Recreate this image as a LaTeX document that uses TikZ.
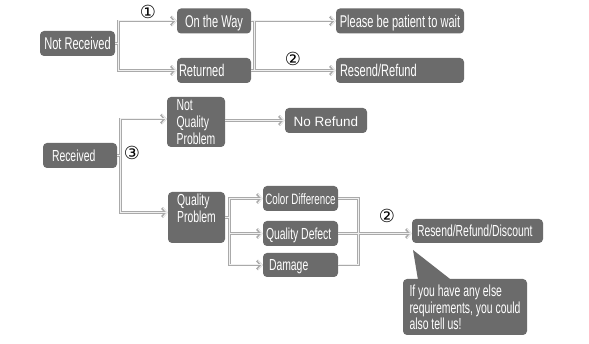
\documentclass[tikz,border=0pt]{standalone}
\usepackage{fontspec}
\setmainfont{Liberation Sans}
\newfontfamily\narrowfont[FakeStretch=0.65]{Liberation Sans}
\newfontfamily\circfont{DejaVu Sans}
\usetikzlibrary{arrows.meta}
\definecolor{boxgray}{HTML}{6B6B6B}
\definecolor{linkedge}{HTML}{AAAAAA}
\definecolor{linkfill}{HTML}{F0F0F0}

\begin{document}
\begin{tikzpicture}[x=1pt,y=-1pt,
  box/.style={fill=boxgray,rounded corners=4pt,text=white,inner sep=0pt,minimum height=25pt,align=left,
    font=\narrowfont\fontsize{16}{17}\selectfont},
  single/.style={text height=11.5pt,text depth=0pt},
  bigtext/.style={font=\narrowfont\fontsize{17}{18}\selectfont,text height=12.5pt,text depth=0pt},
  linkout/.style={draw=linkedge,line width=2.6pt},
  linkin/.style={draw=linkfill,line width=1pt},
  num/.style={font=\circfont\fontsize{18}{18}\selectfont,inner sep=0pt},
  >={Straight Barb[length=4pt,width=9pt]}]
\useasboundingbox[fill=white] (0,0) rectangle (589,344);

% not received
\node[box,bigtext,minimum width=75pt] (notrec) at (77.5,43.5) {Not Received};
\node[box,bigtext,minimum width=74pt] (ontheway) at (214,21) {On the Way};
\node[box,bigtext,inner xsep=2pt] (returned) at (214,70.5) {\makebox[70pt][l]{Returned}};
\node[box,bigtext,minimum width=128pt] (please) at (400,21) {Please be patient to wait};
\node[box,bigtext,inner xsep=4pt] (resend) at (400,70.5) {\makebox[120pt][l]{Resend/Refund}};

% received
\node[box,single,inner xsep=9pt] (received) at (80,155.5) {\makebox[56pt][l]{Received}};
\node[box,minimum width=58pt,minimum height=50pt,text height=48pt,text depth=2pt] (nqp) at (196,122) {Not\\Quality\\Problem};
\node[box,single,minimum width=82pt,font=\fontsize{13.5}{15}\selectfont] (noref) at (326,120.5) {No Refund};
\node[box,minimum width=57pt,minimum height=51pt,text height=30pt,text depth=19pt] (qp) at (196.5,217.5) {Quality\\Problem};
\node[box,single,minimum width=75pt,font=\narrowfont\fontsize{15}{16}\selectfont] (colordiff) at (300.5,198.5) {Color Difference};
\node[box,single,inner xsep=3pt] (qdefect) at (300.5,233.5) {\makebox[69pt][l]{Quality Defect}};
\node[box,single,inner xsep=6pt,minimum height=24pt] (damage) at (300.5,265) {\makebox[63pt][l]{Damage}};
\node[box,single,inner xsep=5pt,minimum height=24pt] (rrd) at (477.5,231) {\makebox[121pt][l]{Resend/Refund/Discount}};
\node[box,minimum width=124pt,minimum height=56pt,text height=50pt,text depth=4pt,
  font=\narrowfont\fontsize{16}{16.5}\selectfont] (callout) at (465,307)
  {If you have any else\\requirements, you could\\also tell us!};
\coordinate (calltip) at (413,250);
\fill[boxgray] (calltip) -- ([xshift=15pt]callout.north west) -- ([xshift=47pt]callout.north west) -- cycle;

% connectors, outline first then fill
\foreach \pass in {linkout,linkin}{
  \draw[\pass,->] (notrec.east) -- ++(3pt,0) |- (ontheway.west);
  \draw[\pass,->] (notrec.east) -- ++(3pt,0) |- (returned.west);
  \draw[\pass,->] (ontheway.east) -- (please.west);
  \draw[\pass] (ontheway.east) -- ++(3pt,0) |- (returned.east);
  \draw[\pass,->] (returned.east) -- (resend.west);
  \draw[\pass,->] (received.east) -- ++(3pt,0) |- ([yshift=3pt]nqp.west);
  \draw[\pass,->] (received.east) -- ++(3pt,0) |- ([yshift=5pt]qp.west);
  \draw[\pass,->] (nqp.east |- noref.west) -- (noref.west);
  \draw[\pass,->] (qp.east) -- ++(4pt,0) |- (colordiff.west);
  \draw[\pass,->] (qp.east) -- ++(4pt,0) |- (qdefect.west);
  \draw[\pass,->] (qp.east) -- ++(4pt,0) |- (damage.west);
  \draw[\pass] (colordiff.east) -- ++(20pt,0) |- (damage.east);
  \draw[\pass,->] (qdefect.east) -- (qdefect.east -| rrd.west);
}

\node[num] (n1) at (148,12) {①};
\node[num] (n2) at (293,59) {②};
\node[num] (n3) at (132,153) {③};
\node[num] (n4) at (387,216) {②};
\end{tikzpicture}
\end{document}
